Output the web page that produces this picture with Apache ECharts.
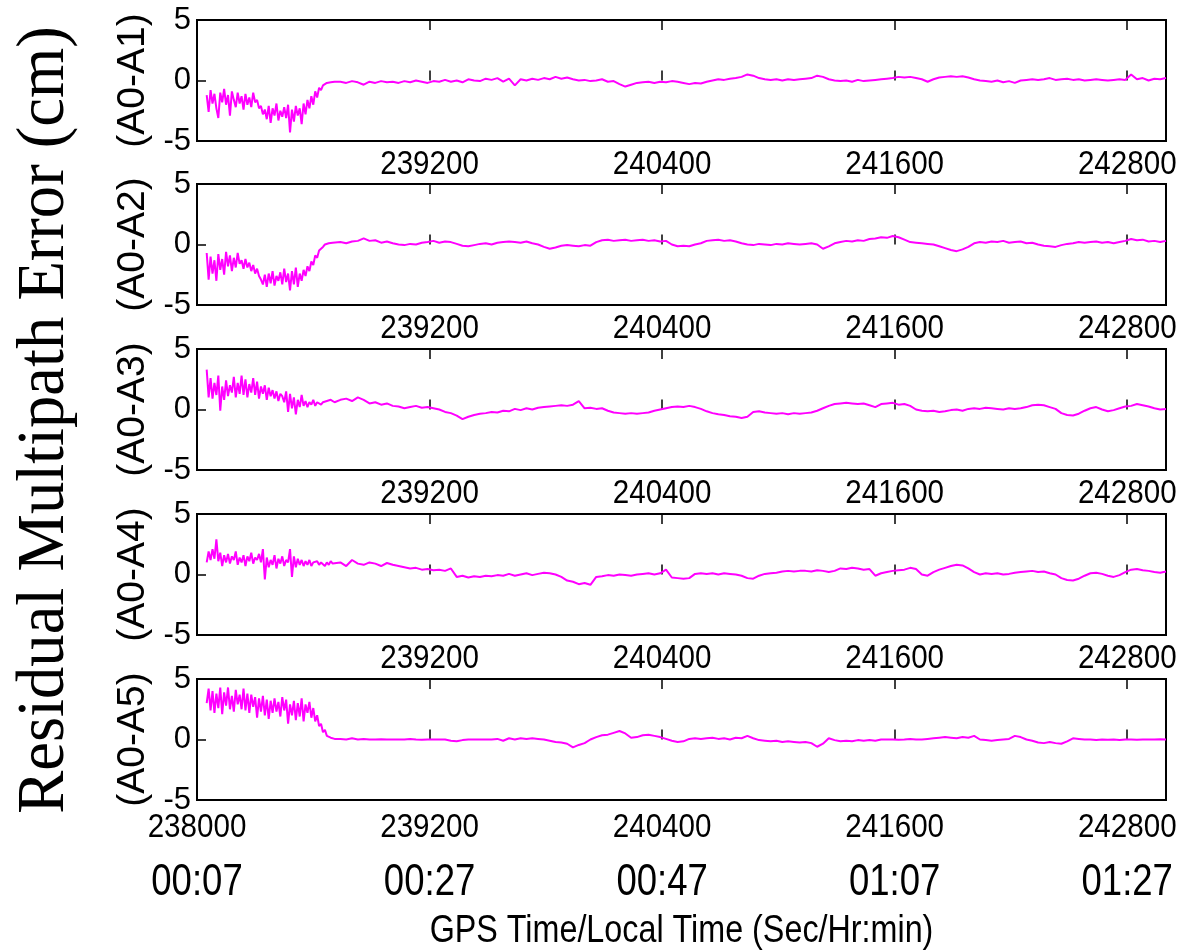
<!DOCTYPE html>
<html>
<head>
<meta charset="utf-8">
<script src="https://cdn.jsdelivr.net/npm/echarts@6/dist/echarts.min.js"></script>
<style>
  html, body { margin: 0; padding: 0; background: #fff; }
  #chart { width: 1179px; height: 951px; }
</style>
</head>
<body>
<div id="chart"></div>
<script>
// GPS seconds-of-week tick positions and matching local clock labels
const gpsTicks = [238000, 239200, 240400, 241600, 242800];
const hrMinLabels = ['00:07', '00:27', '00:47', '01:07', '01:27'];
const panelNames = ['(A0-A1)', '(A0-A2)', '(A0-A3)', '(A0-A4)', '(A0-A5)'];
const yTitle = 'Residual Multipath Error (cm)';
const xTitle = 'GPS Time/Local Time (Sec/Hr:min)';

// Sampling clock: 10 s samples during the start-up transient, 30 s afterwards
const denseStart = 238050, denseStep = 10, denseCount = 67;
const sparseStart = 238740, sparseStep = 30, sparseCount = 143;

// Residual multipath (cm), baseline A0-A1
const a1Dense = [
  -1.2, -2.6, -0.8, -1.9, -1.1, -2.3, -3.1, -1.0, -1.8, -0.7,
  -2.0, -1.2, -2.9, -0.9, -1.6, -2.2, -1.0, -1.9, -1.3, -2.4,
  -1.1, -2.0, -1.4, -2.2, -1.0, -1.8, -1.6, -2.3, -2.1, -2.8,
  -2.4, -3.2, -2.1, -3.5, -2.3, -2.9, -1.9, -3.3, -2.5, -3.0,
  -2.2, -3.1, -2.0, -4.3, -2.4, -3.4, -2.1, -2.9, -2.3, -3.6,
  -1.9, -2.8, -1.6, -2.3, -1.3, -2.0, -0.9, -1.4, -0.6, -0.8,
  -0.4, -0.3, -0.2, -0.25, -0.15, -0.2, -0.1
];
const a1Sparse = [
  -0.1, -0.2, -0.05, -0.15, -0.35, -0.1, -0.2, -0.05, -0.15, -0.1,
  -0.2, -0.05, -0.15, 0.0, -0.1, -0.2, -0.05, -0.1, 0.05, -0.1,
  0.0, -0.15, 0.1, 0.0, -0.05, 0.15, 0.05, 0.2, -0.1, 0.15,
  -0.4, 0.1, 0.0, 0.15, 0.05, 0.2, 0.1, 0.3, 0.15, 0.25,
  0.1, 0.0, 0.05, -0.05, 0.0, 0.1, -0.1, -0.05, -0.3, -0.5,
  -0.35, -0.2, -0.15, -0.1, -0.2, -0.1, -0.15, -0.05, -0.1, -0.2,
  -0.3, -0.2, -0.25, -0.1, 0.0, 0.1, 0.05, 0.15, 0.2, 0.3,
  0.5, 0.4, 0.2, 0.1, 0.05, 0.1, 0.0, 0.1, 0.05, 0.1,
  0.15, 0.2, 0.4, 0.3, 0.1, 0.0, -0.05, 0.0, -0.1, 0.05,
  -0.05, 0.0, 0.05, 0.1, 0.15, 0.2, 0.3, 0.25, 0.3, 0.2,
  0.1, -0.1, 0.1, 0.25, 0.3, 0.35, 0.3, 0.35, 0.25, 0.1,
  0.0, -0.05, -0.1, 0.0, -0.15, -0.05, -0.2, 0.0, 0.05, 0.1,
  0.05, 0.1, 0.2, 0.05, 0.1, 0.15, 0.05, 0.1, 0.0, 0.05,
  0.1, 0.05, 0.0, 0.05, 0.1, 0.05, 0.5, 0.1, 0.2, 0.0,
  0.15, 0.1, 0.2
];

// Baseline A0-A2
const a2Dense = [
  -0.7, -2.9, -1.0, -2.4, -1.3, -3.0, -0.8, -2.1, -1.2, -2.5,
  -0.6, -1.8, -0.9, -2.2, -1.1, -1.9, -0.7, -1.6, -1.3, -2.0,
  -1.2, -1.9, -1.5, -2.2, -1.7, -2.4, -2.0, -2.6, -2.9, -3.3,
  -2.5, -3.5, -2.4, -3.2, -2.2, -3.4, -2.6, -3.0, -2.3, -3.3,
  -2.0, -3.1, -2.4, -3.8, -2.2, -3.3, -1.9, -3.5, -2.4, -3.0,
  -2.1, -2.6, -1.8, -2.2, -1.4, -1.7, -0.9, -1.1, -0.5, -0.4,
  -0.2, 0.0, -0.1, 0.1, 0.05, 0.15, 0.1
];
const a2Sparse = [
  0.2, 0.1, 0.25, 0.3, 0.5, 0.3, 0.35, 0.15, 0.25, 0.1,
  0.0, -0.05, 0.05, 0.0, 0.15, 0.2, 0.3, 0.15, 0.25, 0.2,
  0.05, -0.1, -0.15, -0.05, 0.05, 0.1, 0.0, 0.15, 0.2, 0.25,
  0.2, 0.15, 0.25, 0.1, 0.0, -0.2, -0.35, -0.25, -0.1, -0.05,
  -0.1, -0.15, -0.05, -0.1, 0.2, 0.35, 0.4, 0.3, 0.35, 0.4,
  0.3, 0.35, 0.4, 0.3, 0.35, 0.25, 0.3, 0.0, -0.15, -0.1,
  -0.15, 0.0, 0.1, 0.3, 0.35, 0.4, 0.3, 0.35, 0.25, 0.1,
  0.0, -0.05, 0.05, 0.0, -0.05, 0.05, 0.0, 0.1, 0.05, 0.0,
  0.05, 0.1, 0.0, -0.35, -0.15, 0.1, 0.2, 0.3, 0.25, 0.35,
  0.3, 0.45, 0.5, 0.6, 0.55, 0.7, 0.6, 0.4, 0.2, 0.15,
  0.1, 0.05, 0.0, -0.15, -0.3, -0.45, -0.55, -0.4, -0.2, 0.1,
  0.2, 0.15, 0.25, 0.2, 0.3, 0.15, 0.2, 0.25, 0.1, 0.15,
  0.0, -0.1, -0.15, -0.2, -0.05, 0.05, 0.1, 0.2, 0.15, 0.2,
  0.25, 0.15, 0.2, 0.1, 0.2, 0.3, 0.45, 0.35, 0.4, 0.25,
  0.3, 0.2, 0.3
];

// Baseline A0-A3
const a3Dense = [
  3.3, 1.0, 2.6, 0.9, 2.2, 1.2, 2.8, -0.1, 1.9, 0.8,
  2.4, 1.1, 2.0, 1.4, 2.7, 1.0, 2.2, 1.3, 2.8, 1.2,
  2.5, 1.0, 2.1, 1.4, 2.6, 1.2, 2.3, 0.9, 1.9, 1.3,
  2.0, 0.8, 1.8, 1.1, 1.6, 0.9, 1.5, 0.7, 1.3, 1.1,
  0.6, 1.5, -0.2, 1.3, 0.1, 1.0, -0.4, 0.8, 0.2, 1.2,
  0.3, 0.7, 0.2, 0.6, 0.4, 0.8, 0.3, 0.6, 0.5, 0.4,
  0.6, 0.5, 0.7, 0.6, 0.8, 0.7, 0.6
];
const a3Sparse = [
  0.8, 0.9, 0.7, 1.0, 0.8, 0.5, 0.6, 0.4, 0.5, 0.3,
  0.25, 0.1, 0.2, 0.3, 0.15, 0.2, 0.1, 0.0, -0.2, -0.3,
  -0.5, -0.8, -0.6, -0.45, -0.35, -0.3, -0.2, -0.25, -0.1, -0.15,
  0.05, -0.05, 0.1, 0.0, 0.15, 0.2, 0.25, 0.3, 0.35, 0.3,
  0.4, 0.7, 0.1, 0.15, 0.05, 0.1, -0.1, -0.25, -0.3, -0.35,
  -0.3, -0.35, -0.3, -0.25, -0.1, 0.0, 0.1, 0.2, 0.25, 0.2,
  0.3, 0.2, 0.05, -0.15, -0.3, -0.4, -0.45, -0.55, -0.6, -0.7,
  -0.6, -0.2, -0.15, -0.25, -0.3, -0.35, -0.3, -0.4, -0.3, -0.35,
  -0.3, -0.25, -0.1, 0.1, 0.3, 0.45, 0.5, 0.55, 0.5, 0.45,
  0.5, 0.35, 0.2, 0.45, 0.5, 0.55, 0.4, 0.45, 0.3, 0.0,
  -0.1, -0.15, -0.1, -0.2, -0.15, -0.05, 0.0, -0.1, 0.05, 0.1,
  0.05, 0.15, 0.1, 0.05, 0.0, 0.1, 0.05, 0.1, 0.2, 0.35,
  0.4, 0.35, 0.2, 0.05, -0.3, -0.45, -0.5, -0.35, -0.1, 0.1,
  0.2, 0.0, -0.15, -0.05, 0.1, 0.25, 0.3, 0.45, 0.35, 0.25,
  0.1, 0.0, 0.05
];

// Baseline A0-A4
const a4Dense = [
  1.0, 1.9, 1.2, 2.1, 1.3, 2.9, 1.1, 1.8, 0.7, 1.6,
  1.0, 1.7, 0.9, 1.5, 1.2, 1.9, 0.8, 1.4, 1.0, 1.6,
  0.7, 1.5, 1.1, 1.8, 0.9, 1.4, 1.2, 1.7, 1.0, 2.1,
  -0.4, 1.4, 0.6, 1.2, 0.8, 1.6, 0.5, 1.3, 0.9, 1.5,
  0.7, 1.2, 1.0, 2.1, -0.2, 1.5, 0.6, 1.3, 0.8, 1.2,
  0.7, 1.1, 0.8, 1.2, 0.7, 1.0, 0.9, 1.1, 0.8, 1.0,
  0.9, 0.7, 1.0, 0.8, 1.1, 0.9, 0.8
];
const a4Sparse = [
  1.0, 0.7, 1.2, 0.9, 0.8, 1.0, 0.9, 0.7, 0.95, 0.8,
  0.7, 0.6, 0.5, 0.55, 0.4, 0.45, 0.35, 0.4, 0.3, 0.5,
  -0.2, -0.1, -0.25, -0.15, -0.2, -0.1, -0.15, -0.05, -0.1, 0.05,
  -0.1, 0.0, 0.1, -0.05, 0.05, 0.15, 0.1, 0.0, -0.2, -0.5,
  -0.6, -0.8, -0.7, -0.85, -0.2, -0.15, -0.05, -0.1, 0.0, -0.05,
  -0.1, 0.0, 0.05, 0.1, 0.0, 0.1, 0.4, -0.25, -0.3, -0.35,
  -0.3, 0.05, 0.1, 0.05, 0.1, 0.0, 0.1, 0.05, 0.0, -0.1,
  -0.3, -0.35, -0.1, 0.05, 0.1, 0.15, 0.25, 0.3, 0.25, 0.3,
  0.3, 0.25, 0.35, 0.3, 0.2, 0.3, 0.5, 0.45, 0.55, 0.5,
  0.4, 0.45, -0.1, 0.1, 0.2, 0.3, 0.35, 0.4, 0.55, 0.45,
  0.0, -0.1, 0.2, 0.4, 0.55, 0.7, 0.8, 0.75, 0.5, 0.2,
  0.0, 0.1, 0.05, 0.1, 0.0, 0.05, 0.15, 0.2, 0.25, 0.3,
  0.2, 0.25, 0.1, 0.0, -0.3, -0.45, -0.5, -0.35, -0.1, 0.1,
  0.15, 0.05, -0.1, -0.2, -0.05, 0.2, 0.4, 0.45, 0.35, 0.3,
  0.2, 0.15, 0.25
];

// Baseline A0-A5
const a5Dense = [
  3.0, 4.2, 2.4, 4.0, 2.2, 3.8, 2.6, 4.3, 2.1, 3.9,
  2.8, 4.3, 2.5, 3.6, 2.3, 4.1, 2.9, 3.7, 2.5, 4.2,
  2.4, 3.8, 2.2, 3.7, 2.7, 3.5, 1.8, 3.4, 2.3, 3.6,
  2.0, 3.3, 1.7, 3.2, 2.2, 3.4, 2.3, 3.1, 1.9, 3.5,
  2.4, 3.3, 1.3, 2.9, 2.0, 3.2, 1.6, 3.0, 1.9, 3.4,
  1.5, 2.9, 2.2, 3.1, 1.8, 2.6, 1.5, 2.0, 1.1, 1.3,
  0.6, 0.8, 0.3, 0.4, 0.15, 0.2, 0.05
];
const a5Sparse = [
  0.05, 0.0, 0.1, 0.0, 0.05, 0.0, 0.0, 0.02, 0.0, 0.0,
  0.0, 0.0, 0.05, 0.0, -0.02, 0.0, 0.0, 0.0, 0.0, -0.1,
  -0.15, -0.05, 0.0, 0.0, 0.0, 0.0, 0.0, 0.05, -0.1, 0.1,
  0.0, 0.1, 0.05, 0.1, 0.05, 0.0, -0.1, -0.2, -0.25, -0.35,
  -0.65, -0.45, -0.3, 0.0, 0.2, 0.35, 0.4, 0.55, 0.7, 0.5,
  0.15, 0.2, 0.35, 0.4, 0.3, 0.2, 0.05, -0.1, -0.2, -0.15,
  0.05, 0.1, 0.05, 0.1, 0.15, 0.05, 0.1, 0.0, 0.15, 0.1,
  0.3, 0.1, -0.05, -0.1, -0.15, -0.1, -0.2, -0.15, -0.2, -0.25,
  -0.2, -0.3, -0.6, -0.35, 0.1, -0.05, -0.15, -0.1, -0.15, -0.05,
  -0.1, -0.05, -0.1, 0.0, 0.0, 0.0, -0.02, 0.0, 0.05, 0.0,
  0.0, 0.05, 0.1, 0.15, 0.2, 0.15, 0.1, 0.2, 0.15, 0.3,
  0.0, -0.05, -0.1, -0.05, 0.0, 0.05, 0.3, 0.2, 0.0, -0.1,
  -0.25, -0.3, -0.2, -0.3, -0.35, -0.15, 0.1, 0.05, 0.0, 0.0,
  -0.05, 0.0, -0.02, 0.0, -0.05, 0.0, 0.0, -0.02, 0.0, 0.0,
  0.0, 0.02, 0.0
];

const seriesDense = [a1Dense, a2Dense, a3Dense, a4Dense, a5Dense];
const seriesSparse = [a1Sparse, a2Sparse, a3Sparse, a4Sparse, a5Sparse];

// Sample times for each segment
const denseTimes = Array.from({ length: denseCount }, (_, i) => denseStart + i * denseStep);
const sparseTimes = Array.from({ length: sparseCount }, (_, i) => sparseStart + i * sparseStep);

function pairs(dense, sparse) {
  const out = [];
  dense.forEach((v, i) => out.push([denseTimes[i], v]));
  sparse.forEach((v, i) => out.push([sparseTimes[i], v]));
  return out;
}

// Panel layout
const panelTops = [20, 184, 349, 514, 679];
const panelLeft = 197, panelWidth = 969, panelHeight = 121;

const sans = '"Liberation Sans", Arial, sans-serif';

const grids = [], xAxes = [], yAxes = [], series = [];
panelTops.forEach((top, i) => {
  grids.push({
    left: panelLeft, top: top, width: panelWidth, height: panelHeight,
    show: true, borderColor: '#000', borderWidth: 2, backgroundColor: 'transparent'
  });
  // bottom axis: inward ticks (its labels are drawn condensed below)
  xAxes.push({
    type: 'value', gridIndex: i, position: 'bottom', min: 238000, max: 243000,
    axisLine: { show: false },
    axisTick: { show: true, inside: true, length: 10, customValues: gpsTicks,
      lineStyle: { color: '#000', width: 1.5 } },
    axisLabel: { show: false },
    splitLine: { show: false }
  });
  // top axis carrying only the inward ticks
  xAxes.push({
    type: 'value', gridIndex: i, position: 'top', min: 238000, max: 243000,
    axisLine: { show: false },
    axisTick: { show: true, inside: true, length: 10, customValues: gpsTicks,
      lineStyle: { color: '#000', width: 1.5 } },
    axisLabel: { show: false },
    splitLine: { show: false }
  });
  yAxes.push({
    type: 'value', gridIndex: i, min: -5, max: 5, interval: 5,
    axisLine: { show: false },
    axisTick: { show: true, inside: true, length: 9, lineStyle: { color: '#000', width: 1.5 } },
    axisLabel: { color: '#000', fontFamily: sans, fontSize: 31, margin: 6 },
    splitLine: { show: false },
    name: panelNames[i], nameLocation: 'middle', nameRotate: 90, nameGap: 25,
    nameTextStyle: { color: '#000', fontFamily: sans, fontSize: 39 }
  });
  series.push({
    type: 'line', xAxisIndex: 2 * i, yAxisIndex: i,
    data: pairs(seriesDense[i], seriesSparse[i]),
    showSymbol: false, symbol: 'none', smooth: false,
    lineStyle: { color: '#ff00ff', width: 2 },
    animation: false
  });
});

const chart = echarts.init(document.getElementById('chart'), null, { renderer: 'canvas' });
chart.setOption({
  animation: false,
  backgroundColor: '#fff',
  grid: grids,
  xAxis: xAxes,
  yAxis: yAxes,
  series: series
});

// Condensed tick labels placed through each panel's x scale
function condensedText(text, x, y, size, squeeze) {
  return {
    type: 'text', x: x, y: y, scaleX: squeeze, silent: true,
    style: { text: text, fill: '#000', font: size + 'px ' + sans, align: 'center', verticalAlign: 'middle' }
  };
}
const graphics = [];
panelTops.forEach((top, i) => {
  const isBottom = i === panelTops.length - 1;
  const labelY = top + panelHeight + (isBottom ? 28 : 24);
  gpsTicks.forEach((v, k) => {
    if (!isBottom && k === 0) return;
    const px = chart.convertToPixel({ xAxisIndex: 2 * i }, v);
    graphics.push(condensedText(String(v), px, labelY, 34, 0.87));
    if (isBottom) {
      graphics.push(condensedText(hrMinLabels[k], px, top + panelHeight + 83, 44, 0.83));
    }
  });
});
const plotMidX = chart.convertToPixel({ xAxisIndex: 8 }, (238000 + 243000) / 2);
graphics.push(condensedText(xTitle, plotMidX, 932, 38, 0.85));
graphics.push({
  type: 'text', x: 45, y: 420, rotation: Math.PI / 2, scaleX: 0.95, silent: true,
  style: {
    text: yTitle, fill: '#000',
    font: '68px "Liberation Serif", "Times New Roman", serif',
    align: 'center', verticalAlign: 'middle'
  }
});
chart.setOption({ graphic: graphics });
</script>
</body>
</html>
